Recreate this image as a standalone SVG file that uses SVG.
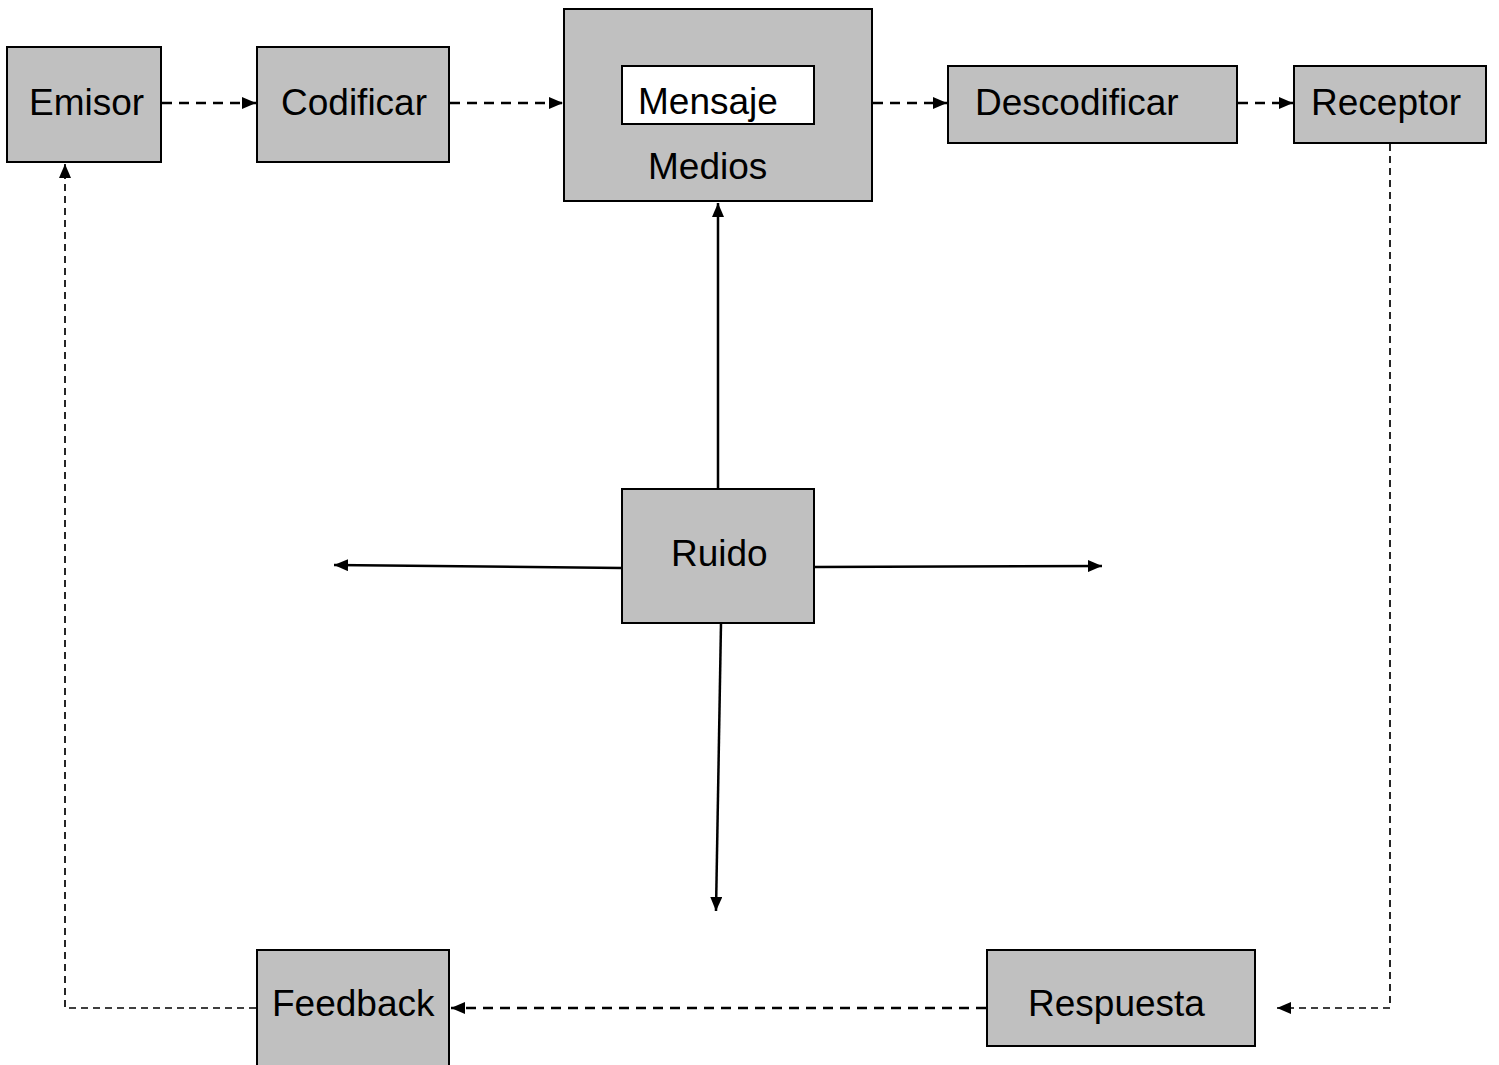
<svg xmlns="http://www.w3.org/2000/svg" width="1499" height="1065" viewBox="0 0 1499 1065">
  <style>
    .box { fill: #C0C0C0; stroke: #000; stroke-width: 2; }
    .inner { fill: #FFFFFF; stroke: #000; stroke-width: 2; }
    .lbl { font-family: "Liberation Sans", Arial, sans-serif; font-size: 37px; fill: #000; }
    .dash { fill: none; stroke: #000; stroke-width: 2.6; stroke-dasharray: 10 7; }
    .thin { fill: none; stroke: #000; stroke-width: 1.7; stroke-dasharray: 7 5; }
    .solid { fill: none; stroke: #000; stroke-width: 2.5; }
  </style>
  <defs>
    <marker id="arr" viewBox="0 0 14 12" refX="14" refY="6" markerWidth="14" markerHeight="12" markerUnits="userSpaceOnUse" orient="auto">
      <path d="M0,0 L14,6 L0,12 Z" fill="#000"/>
    </marker>
  </defs>

  <rect width="1499" height="1065" fill="#FFFFFF"/>

  <!-- connectors -->
  <g id="connectors">
    <line class="dash" x1="162" y1="103" x2="256" y2="103" marker-end="url(#arr)"/>
    <line class="dash" x1="450" y1="103" x2="563" y2="103" marker-end="url(#arr)"/>
    <line class="dash" x1="873" y1="103" x2="947" y2="103" marker-end="url(#arr)"/>
    <line class="dash" x1="1238" y1="103" x2="1293" y2="103" marker-end="url(#arr)"/>
    <polyline class="thin" points="1390,144 1390,1008 1277,1008" marker-end="url(#arr)"/>
    <line class="dash" x1="986" y1="1008" x2="451" y2="1008" marker-end="url(#arr)"/>
    <polyline class="thin" points="256,1008 65,1008 65,164" marker-end="url(#arr)"/>
    <line class="solid" x1="718" y1="489" x2="718" y2="203" marker-end="url(#arr)"/>
    <line class="solid" x1="622" y1="568" x2="334" y2="565" marker-end="url(#arr)"/>
    <line class="solid" x1="814" y1="567" x2="1102" y2="566" marker-end="url(#arr)"/>
    <line class="solid" x1="721" y1="623" x2="716" y2="911" marker-end="url(#arr)"/>
  </g>

  <!-- nodes -->
  <g id="emisor">
    <rect class="box" x="7" y="47" width="154" height="115"/>
    <text class="lbl" x="29" y="115">Emisor</text>
  </g>
  <g id="codificar">
    <rect class="box" x="257" y="47" width="192" height="115"/>
    <text class="lbl" x="281" y="115">Codificar</text>
  </g>
  <g id="medios">
    <rect class="box" x="564" y="9" width="308" height="192"/>
    <rect class="inner" x="622" y="66" width="192" height="58"/>
    <text class="lbl" x="638" y="114">Mensaje</text>
    <text class="lbl" x="648" y="179">Medios</text>
  </g>
  <g id="descodificar">
    <rect class="box" x="948" y="66" width="289" height="77"/>
    <text class="lbl" x="975" y="115">Descodificar</text>
  </g>
  <g id="receptor">
    <rect class="box" x="1294" y="66" width="192" height="77"/>
    <text class="lbl" x="1311" y="115">Receptor</text>
  </g>
  <g id="ruido">
    <rect class="box" x="622" y="489" width="192" height="134"/>
    <text class="lbl" x="671" y="566">Ruido</text>
  </g>
  <g id="feedback">
    <rect class="box" x="257" y="950" width="192" height="120"/>
    <text class="lbl" x="272" y="1016">Feedback</text>
  </g>
  <g id="respuesta">
    <rect class="box" x="987" y="950" width="268" height="96"/>
    <text class="lbl" x="1028" y="1016">Respuesta</text>
  </g>
</svg>
